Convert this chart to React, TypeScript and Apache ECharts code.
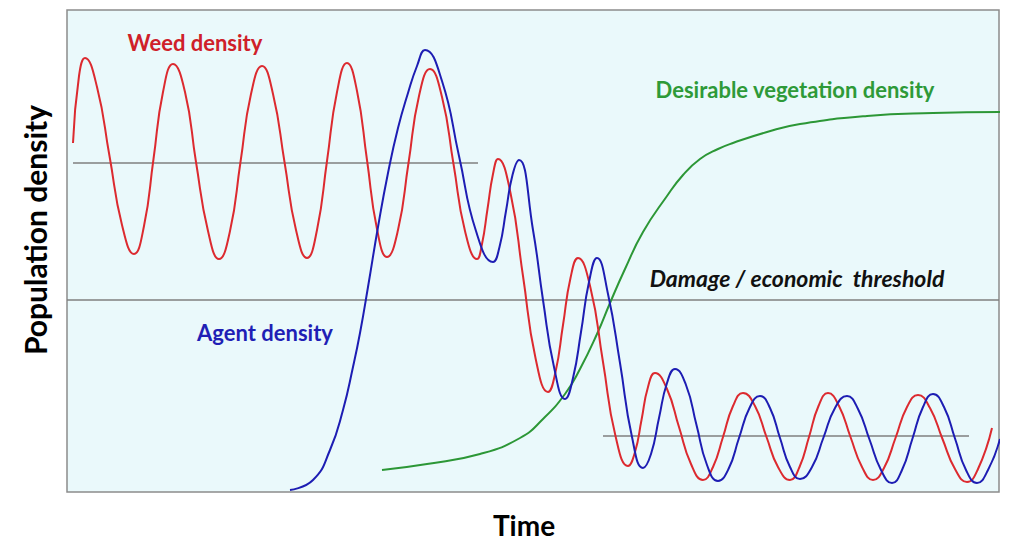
import React, { useEffect, useRef } from "react";
import * as echarts from "echarts";

// Time (x) and population density (y) in arbitrary units
const weedDensity: [number, number][] = [
  [0.5, 34.9], [1.1, 41.6], [1.7, 43.4], [2.9, 40.5], [4.15, 33.6], [5.4, 26.7],
  [6.6, 23.8], [7.6, 26.6], [8.55, 33.3], [9.5, 40.0], [10.5, 42.8], [11.7, 40.0],
  [12.8, 33.0], [14.0, 26.1], [15.1, 23.3], [16.2, 26.1], [17.25, 33.0], [18.3, 39.8],
  [19.4, 42.6], [20.5, 39.8], [21.65, 33.0], [22.8, 26.2], [23.9, 23.4], [24.9, 26.2],
  [25.9, 33.1], [26.9, 40.0], [27.9, 42.9], [28.9, 40.1], [29.9, 33.2], [30.9, 26.3],
  [31.9, 23.5], [33.0, 26.2], [34.05, 32.9], [35.1, 39.6], [36.2, 42.3], [37.4, 39.5],
  [38.55, 32.8], [39.7, 26.1], [40.9, 23.3], [41.4, 24.8], [41.95, 28.3], [42.5, 31.8],
  [43.0, 33.3], [44.25, 29.9], [45.5, 21.6], [46.75, 13.4], [48.0, 10.0], [48.75, 12.0],
  [49.5, 16.7], [50.25, 21.4], [51.0, 23.4], [52.25, 20.4], [53.5, 13.0], [54.75, 5.6],
  [56.0, 2.6], [56.7, 4.0], [57.35, 7.2], [58.0, 10.5], [58.7, 11.9], [59.9, 10.3],
  [61.1, 6.5], [62.3, 2.8], [63.5, 1.2], [64.5, 2.5], [65.5, 5.5], [66.5, 8.6],
  [67.5, 9.9], [68.7, 8.6], [69.85, 5.5], [71.0, 2.5], [72.2, 1.2], [73.15, 2.5],
  [74.1, 5.5], [75.05, 8.6], [76.0, 9.9], [77.1, 8.6], [78.25, 5.5], [79.4, 2.5],
  [80.5, 1.2], [81.6, 2.4], [82.75, 5.4], [83.9, 8.5], [85.0, 9.7], [86.2, 8.4],
  [87.45, 5.3], [88.7, 2.3], [89.9, 1.0], [91.0, 2.3], [92.4, 6.4],
];

const agentDensity: [number, number][] = [
  [22.2, 0.2], [24.5, 1.2], [26.2, 4.2], [27.5, 8.2], [28.5, 12.5], [29.2, 15.9],
  [30.0, 20.5], [31.0, 26.5], [32.0, 31.9], [33.0, 36.4], [34.0, 39.9], [34.9, 42.6],
  [35.7, 44.2],
  [37.4, 41.1], [39.1, 33.6], [40.8, 26.1], [42.5, 23.0], [43.15, 24.5], [43.8, 28.1],
  [44.45, 31.7], [45.1, 33.2], [46.5, 26.2], [47.5, 19.2], [48.6, 12.5], [49.7, 9.3],
  [50.5, 11.4], [51.3, 16.0], [52.1, 21.0], [52.9, 23.4], [54.0, 19.8], [55.2, 12.9],
  [56.4, 5.5], [57.5, 2.4], [58.3, 3.8], [59.1, 7.4], [59.9, 10.9], [60.7, 12.3],
  [61.8, 10.7], [62.85, 6.7], [63.9, 2.7], [65.0, 1.1], [66.05, 2.3], [67.1, 5.4],
  [68.15, 8.4], [69.2, 9.6], [70.2, 8.4], [71.2, 5.4], [72.2, 2.5], [73.2, 1.3],
  [74.4, 2.5], [75.55, 5.45], [76.7, 8.4], [77.9, 9.6], [79.0, 8.3], [80.15, 5.25],
  [81.3, 2.2], [82.4, 0.9], [83.4, 2.2], [84.45, 5.35], [85.5, 8.5], [86.5, 9.8],
  [87.6, 8.5], [88.7, 5.35], [89.8, 2.2], [90.9, 0.9], [92.0, 2.2], [93.2, 5.3],
];

const vegetationDensity: [number, number][] = [
  [31.4, 2.2], [35.9, 2.8], [41.2, 3.8], [45.2, 5.4], [47.5, 7.3], [49.7, 9.8],
  [51.2, 12.3], [52.9, 15.8], [54.2, 18.9], [55.7, 22.3], [57.5, 26.0], [59.9, 29.6],
  [61.5, 31.7], [63.2, 33.3], [65.0, 34.3], [66.5, 34.9], [69.9, 36.0], [73.2, 36.8],
  [79.9, 37.6], [86.5, 37.9], [93.2, 38.0],
];

const upperThreshold: [number, number][] = [[0.5, 32.9], [41.0, 32.9]];
const damageThreshold: [number, number][] = [[-0.1, 19.2], [93.1, 19.2]];
const lowerThreshold: [number, number][] = [[53.5, 5.6], [90.1, 5.6]];

const labels = {
  weed: "Weed density",
  agent: "Agent density",
  vegetation: "Desirable vegetation density",
  threshold: "Damage / economic  threshold",
  yTitle: "Population density",
  xTitle: "Time",
};

const RED = "#dc2a2f";
const BLUE = "#1d1db3";
const GREEN = "#2c9736";
const GRAY = "#7f7f7f";
const FONT = "Lato, 'Open Sans', sans-serif";

export default function App() {
  const ref = useRef<HTMLDivElement>(null);
  useEffect(() => {
    if (!ref.current) return;
    const chart = echarts.init(ref.current, undefined, { renderer: "svg" });
    const lineSeries = (data: [number, number][], color: string, width: number, smooth: boolean, z: number) => ({
      type: "line",
      data,
      smooth: smooth ? 0.5 : false,
      symbol: "none",
      silent: true,
      z,
      lineStyle: { color, width },
    });
    chart.setOption({
      animation: false,
      backgroundColor: "#ffffff",
      grid: {
        left: 67,
        top: 10,
        width: 932,
        height: 482,
        show: true,
        backgroundColor: "#eaf9fb",
        borderColor: "#8c8c8c",
        borderWidth: 1.5,
      },
      xAxis: {
        type: "value",
        min: -0.1,
        max: 93.1,
        axisLine: { show: false },
        axisTick: { show: false },
        axisLabel: { show: false },
        splitLine: { show: false },
      },
      yAxis: {
        type: "value",
        min: 0,
        max: 48.2,
        axisLine: { show: false },
        axisTick: { show: false },
        axisLabel: { show: false },
        splitLine: { show: false },
      },
      series: [
        lineSeries(upperThreshold, GRAY, 1.5, false, 1),
        lineSeries(damageThreshold, GRAY, 1.5, false, 1),
        lineSeries(lowerThreshold, GRAY, 1.5, false, 1),
        lineSeries(vegetationDensity, GREEN, 2, true, 2),
        lineSeries(weedDensity, RED, 2, true, 3),
        lineSeries(agentDensity, BLUE, 2, true, 4),
      ],
      graphic: [
        {
          type: "text", x: 195, y: 42, z: 10,
          style: { text: labels.weed, fill: "#cf2029", font: `bold 22px ${FONT}`, textAlign: "center", textVerticalAlign: "middle" },
        },
        {
          type: "text", x: 265, y: 332, z: 10,
          style: { text: labels.agent, fill: "#1f1fb5", font: `bold 22px ${FONT}`, textAlign: "center", textVerticalAlign: "middle" },
        },
        {
          type: "text", x: 795, y: 89, z: 10,
          style: { text: labels.vegetation, fill: "#2e9a38", font: `bold 22px ${FONT}`, textAlign: "center", textVerticalAlign: "middle" },
        },
        {
          type: "text", x: 797, y: 278, z: 10,
          style: { text: labels.threshold, fill: "#111111", font: `italic bold 23px ${FONT}`, textAlign: "center", textVerticalAlign: "middle" },
        },
        {
          type: "text", x: 35, y: 230, rotation: Math.PI / 2, z: 10,
          style: { text: labels.yTitle, fill: "#000000", font: `bold 30px ${FONT}`, textAlign: "center", textVerticalAlign: "middle" },
        },
        {
          type: "text", x: 524, y: 525, z: 10,
          style: { text: labels.xTitle, fill: "#000000", font: `bold 28px ${FONT}`, textAlign: "center", textVerticalAlign: "middle" },
        },
      ],
    });
    return () => chart.dispose();
  }, []);
  return (
    <div
      ref={ref}
      style={{ position: "fixed", left: 0, top: 0, width: 1012, height: 541, background: "#ffffff" }}
    />
  );
}
